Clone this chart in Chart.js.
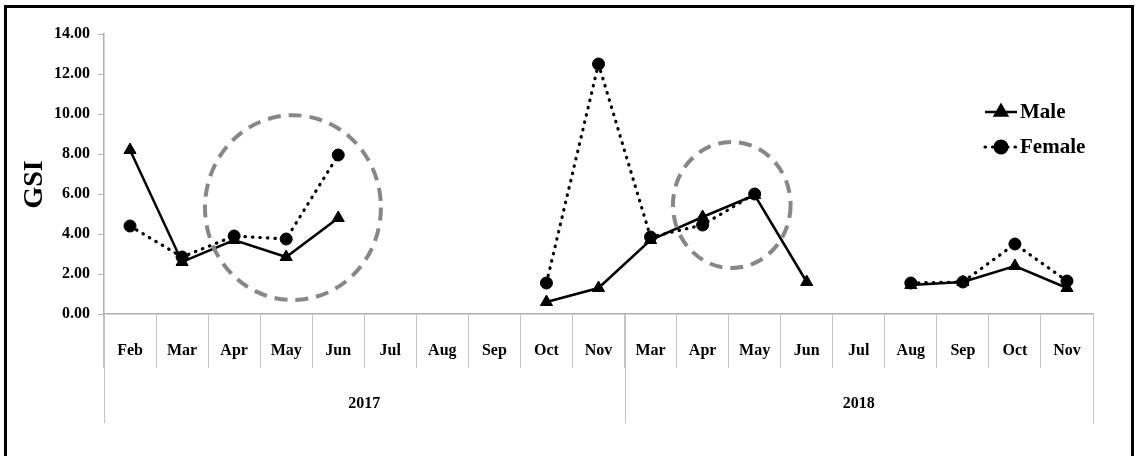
<!DOCTYPE html>
<html>
<head>
<meta charset="utf-8">
<script src="https://cdn.jsdelivr.net/npm/chart.js@4/dist/chart.umd.min.js"></script>
<style>
  html, body { margin: 0; padding: 0; background: #fff; }
  #wrap { position: relative; width: 1135px; height: 456px; overflow: hidden; }
  #frame { position: absolute; left: 4px; top: 5px; width: 1124px; height: 520px;
           border: 3px solid #000; pointer-events: none; }
</style>
</head>
<body>
<div id="wrap">
  <canvas id="chart" width="1135" height="456"></canvas>
  <div id="frame"></div>
</div>
<script>
// categories
var months = ['Feb', 'Mar', 'Apr', 'May', 'Jun', 'Jul', 'Aug', 'Sep', 'Oct', 'Nov',
              'Mar', 'Apr', 'May', 'Jun', 'Jul', 'Aug', 'Sep', 'Oct', 'Nov'];
var years = ['2017', '2018'];
var monthsPerYear = [10, 9];

// series values (GSI)
var male =   [8.2, 2.6, 3.7, 2.85, 4.8, null, null, null, 0.6, 1.3,
              3.7, 4.85, 5.95, 1.6, null, 1.45, 1.6, 2.4, 1.3];
var female = [4.4, 2.85, 3.9, 3.75, 7.95, null, null, null, 1.55, 12.5,
              3.85, 4.45, 6.0, null, null, 1.55, 1.6, 3.5, 1.65];

// y ticks
var yMin = 0, yMax = 14, yStep = 2;

var serif = '"Liberation Serif", "Times New Roman", serif';
var gridGrey = '#c4c4c4';

// grey dashed rings drawn on top (in data units)
var rings = [
    { cx: 3.13, cy: 5.32, rx: 1.69, ry: 4.62 },
    { cx: 11.56, cy: 5.45, rx: 1.13, ry: 3.15 }
];

var extrasPlugin = {
    id: 'extras',
    afterDatasetsDraw: function(chart) {
        var ctx = chart.ctx;
        var x = chart.scales.x, y = chart.scales.y;
        var step = x.getPixelForValue(1) - x.getPixelForValue(0);
        var unit = y.getPixelForValue(0) - y.getPixelForValue(1);

        // rings
        ctx.save();
        ctx.strokeStyle = '#878787';
        ctx.lineWidth = 4;
        ctx.setLineDash([13, 8]);
        rings.forEach(function(r) {
            ctx.beginPath();
            ctx.ellipse(x.getPixelForValue(r.cx), y.getPixelForValue(r.cy),
                        r.rx * step, r.ry * unit, 0, 0, Math.PI * 2);
            ctx.stroke();
        });
        ctx.restore();

        // year row
        ctx.save();
        var top = chart.chartArea.bottom;
        var bottom = top + 109;
        ctx.strokeStyle = gridGrey;
        ctx.lineWidth = 1;
        ctx.font = 'bold 16px ' + serif;
        ctx.fillStyle = '#000';
        ctx.textAlign = 'center';
        ctx.textBaseline = 'middle';
        var start = 0;
        var edges = [start - 0.5];
        years.forEach(function(yr, i) {
            var end = start + monthsPerYear[i];
            edges.push(end - 0.5);
            var cx = (x.getPixelForValue(start - 0.5) + x.getPixelForValue(end - 0.5)) / 2;
            ctx.fillText(yr, cx, top + 90);
            start = end;
        });
        edges.forEach(function(e) {
            var px = Math.round(x.getPixelForValue(e)) + 0.5;
            ctx.beginPath();
            ctx.moveTo(px, top);
            ctx.lineTo(px, bottom);
            ctx.stroke();
        });
        ctx.restore();

        // legend
        ctx.save();
        chart.data.datasets.forEach(function(ds, i) {
            var ly = 112 + i * 35;
            var lx = 985;
            ctx.strokeStyle = '#000';
            ctx.lineWidth = ds.borderWidth;
            ctx.lineCap = ds.borderCapStyle || 'butt';
            ctx.setLineDash(ds.borderDash || []);
            ctx.beginPath();
            ctx.moveTo(lx, ly);
            ctx.lineTo(lx + 32, ly);
            ctx.stroke();
            ctx.setLineDash([]);
            Chart.helpers.drawPoint(ctx, {
                pointStyle: ds.pointStyle,
                radius: ds.pointRadius,
                borderWidth: 1,
                rotation: 0
            }, lx + 16, ly);
            ctx.fillStyle = '#000';
            ctx.fill();
            ctx.font = 'bold 21px ' + serif;
            ctx.textAlign = 'left';
            ctx.textBaseline = 'middle';
            ctx.fillText(ds.label, lx + 35, ly + 1);
        });
        ctx.restore();
    }
};

new Chart(document.getElementById('chart'), {
    type: 'line',
    data: {
        labels: months,
        datasets: [
            {
                label: 'Male',
                data: male,
                borderColor: '#000',
                backgroundColor: '#000',
                borderWidth: 2.5,
                pointStyle: 'triangle',
                pointRadius: 7,
                pointBorderWidth: 1,
                tension: 0,
                spanGaps: false
            },
            {
                label: 'Female',
                data: female,
                borderColor: '#000',
                backgroundColor: '#000',
                borderWidth: 3.2,
                borderDash: [0.5, 7],
                borderCapStyle: 'round',
                pointStyle: 'circle',
                pointRadius: 6,
                pointBorderWidth: 1,
                tension: 0,
                spanGaps: false
            }
        ]
    },
    options: {
        responsive: false,
        animation: false,
        events: [],
        layout: { padding: { top: 34, right: 42, bottom: 0, left: 0 } },
        plugins: { legend: { display: false }, tooltip: { enabled: false } },
        scales: {
            x: {
                offset: true,
                grid: {
                    display: true,
                    offset: true,
                    drawOnChartArea: false,
                    drawTicks: true,
                    tickLength: 54,
                    color: gridGrey,
                    lineWidth: 1
                },
                border: { display: true, color: '#b0b0b0', width: 1.5 },
                ticks: {
                    color: '#000',
                    font: { family: serif, size: 16, weight: 'bold' },
                    padding: -27,
                    maxRotation: 0,
                    autoSkip: false
                },
                afterFit: function(s) { s.height = 142; }
            },
            y: {
                min: yMin,
                max: yMax,
                grid: {
                    display: true,
                    drawOnChartArea: false,
                    drawTicks: true,
                    tickLength: 6,
                    color: '#b0b0b0'
                },
                border: { display: true, color: '#b0b0b0', width: 1.5 },
                ticks: {
                    stepSize: yStep,
                    color: '#000',
                    padding: 8,
                    font: { family: serif, size: 16, weight: 'bold' },
                    callback: function(v) { return Number(v).toFixed(2); }
                },
                title: {
                    display: true,
                    text: 'GSI   ',
                    color: '#000',
                    font: { family: serif, size: 28, weight: 'bold' },
                    padding: { top: 18, bottom: 0 }
                },
                afterFit: function(s) { s.width = 104; }
            }
        }
    },
    plugins: [extrasPlugin]
});
</script>
</body>
</html>
